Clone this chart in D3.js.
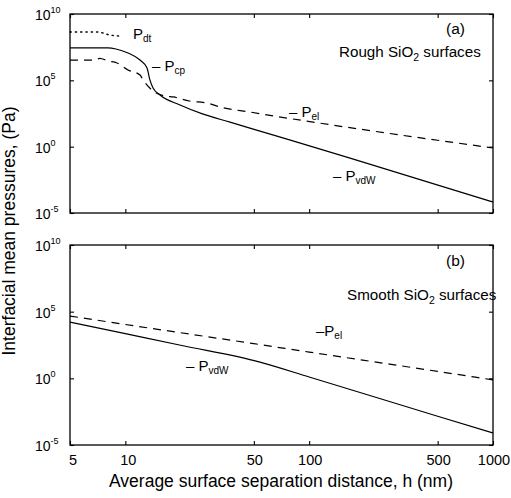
<!DOCTYPE html>
<html><head><meta charset="utf-8">
<script src="https://cdn.jsdelivr.net/npm/d3@7"></script>
<style>
html,body{margin:0;padding:0;background:#fff;}
svg{display:block;font-family:"Liberation Sans",Arial,Helvetica,sans-serif;}
</style></head>
<body><svg id="c" width="511" height="498"></svg>
<script>
// ---- data ----
const xTickValues = [5, 10, 50, 100, 500, 1000];
const xTickLabels = ["5", "10", "50", "100", "500", "1000"];
const yTickExps = [10, 5, 0, -5];

// Panel (a): rough SiO2 surfaces  (h in nm, pressures as log10(Pa))
const hTopVdw   = [5, 8.05, 8.89, 10.34, 12.02, 13.12, 13.6, 14.15, 15.44, 19.84, 26.5, 37.1, 47.6, 166.9, 1000];
const logTopVdw = [7.44, 7.44, 7.36, 7.06, 6.53, 5.93, 5.03, 4.42, 3.90, 3.14, 2.45, 1.85, 1.40, -0.86, -4.17];
const hTopEl    = [5, 6.84, 7.27, 8.05, 9.01, 10.34, 12.02, 12.49, 14.4, 16.4, 18.2, 22.3, 27.8, 32.7, 47.6, 1000];
const logTopEl  = [6.53, 6.53, 6.66, 6.46, 6.31, 5.78, 5.40, 5.03, 4.12, 3.82, 3.75, 3.44, 3.29, 2.99, 2.61, -0.10];
const hTopDt    = [5, 7.1, 8.2, 9.3];
const logTopDt  = [8.64, 8.64, 8.42, 8.34];

// Panel (b): smooth SiO2 surfaces
const hBotVdw   = [5, 10, 20, 54, 100, 500, 1000];
const logBotVdw = [4.22, 3.35, 2.48, 1.22, 0.10, -2.84, -4.10];
const hBotEl    = [5, 10, 50, 100, 500, 1000];
const logBotEl  = [4.67, 4.04, 2.60, 1.97, 0.52, -0.12];

// ---- layout ----
const svg = d3.select("#c");
const left = 70, right = 493;
const panels = [
  {top: 14, bottom: 213, tag: "(a)", title: "Rough SiO", tagY: 34, titleY: 57,
   series: [
     {h: hTopVdw, l: logTopVdw, dash: null},
     {h: hTopEl, l: logTopEl, dash: "8,6"},
     {h: hTopDt, l: logTopDt, dash: "1.3,4"}
   ],
   labels: [
     {x: 133, y: 39, main: "P", sub: "dt"},
     {x: 152, y: 71, main: "\u2013 P", sub: "cp"},
     {x: 289, y: 117, main: "\u2013 P", sub: "el"},
     {x: 333, y: 181, main: "\u2013 P", sub: "vdW"}
   ]},
  {top: 245, bottom: 445, tag: "(b)", title: "Smooth SiO", tagY: 266, titleY: 300,
   series: [
     {h: hBotVdw, l: logBotVdw, dash: null},
     {h: hBotEl, l: logBotEl, dash: "8,6"}
   ],
   labels: [
     {x: 316, y: 336, main: "\u2013P", sub: "el"},
     {x: 186, y: 371, main: "\u2013 P", sub: "vdW"}
   ]}
];

const x = d3.scaleLog().domain([5, 1000]).range([left, right]);

panels.forEach((p, i) => {
  const y = d3.scaleLog().domain([1e-5, 1e10]).range([p.bottom, p.top]);
  const g = svg.append("g");

  // frame
  g.append("rect").attr("x", left).attr("y", p.top)
    .attr("width", right - left).attr("height", p.bottom - p.top)
    .attr("fill", "none").attr("stroke", "#000").attr("stroke-width", 1.3);

  // axes with inward ticks
  const axB = d3.axisBottom(x).tickValues(xTickValues).tickSizeInner(-4).tickSizeOuter(0).tickFormat("");
  const axT = d3.axisTop(x).tickValues(xTickValues).tickSizeInner(-4).tickSizeOuter(0).tickFormat("");
  const yVals = yTickExps.map(e => Math.pow(10, e));
  const axL = d3.axisLeft(y).tickValues(yVals).tickSizeInner(-4).tickSizeOuter(0).tickFormat("");
  const axR = d3.axisRight(y).tickValues(yVals).tickSizeInner(-4).tickSizeOuter(0).tickFormat("");
  [[axB, `translate(0,${p.bottom})`], [axT, `translate(0,${p.top})`],
   [axL, `translate(${left},0)`], [axR, `translate(${right},0)`]].forEach(([a, t]) => {
    const ag = g.append("g").attr("transform", t).call(a);
    ag.select(".domain").remove();
    ag.selectAll("line").attr("stroke", "#000").attr("stroke-width", 1.1);
  });

  // y tick labels 10^n
  yTickExps.forEach(e => {
    const t = g.append("text").attr("x", 35).attr("y", y(Math.pow(10, e)) + 6)
      .attr("font-size", 14).attr("fill", "#000");
    t.append("tspan").text("10");
    t.append("tspan").attr("font-size", 9).attr("dy", -7).text(String(e));
  });

  // x tick labels only on the lower panel
  if (i === 1) {
    xTickValues.forEach((v, k) => {
      g.append("text").attr("x", x(v) + (k < 2 ? 3 : 1)).attr("y", p.bottom + 20)
        .attr("text-anchor", "middle").attr("font-size", 14.5).attr("fill", "#000")
        .text(xTickLabels[k]);
    });
  }

  // curves
  const line = d3.line().x(d => x(d[0])).y(d => y(Math.pow(10, d[1]))).curve(d3.curveMonotoneX);
  p.series.forEach(s => {
    const pts = s.h.map((h, k) => [h, s.l[k]]);
    const dotted = s.dash && s.dash.startsWith("1.3");
    g.append("path").attr("d", line(pts)).attr("fill", "none")
      .attr("stroke", "#000").attr("stroke-width", dotted ? 1.4 : 1.2)
      .attr("stroke-dasharray", s.dash)
      .attr("stroke-linecap", dotted ? "round" : "butt");
  });

  // curve labels
  p.labels.forEach(l => {
    const t = g.append("text").attr("x", l.x).attr("y", l.y).attr("font-size", 15).attr("fill", "#000");
    t.append("tspan").text(l.main);
    t.append("tspan").attr("font-size", 10).attr("dy", 3).text(l.sub);
  });

  // panel tag and title
  g.append("text").attr("x", 446).attr("y", p.tagY).attr("font-size", 15.5).attr("fill", "#000").text(p.tag);
  const tt = g.append("text").attr("x", i === 0 ? 339 : 347).attr("y", p.titleY)
    .attr("font-size", 15.2).attr("fill", "#000");
  tt.append("tspan").text(p.title);
  tt.append("tspan").attr("font-size", 10.5).attr("dy", 4).text("2");
  tt.append("tspan").attr("dy", -4).text(" surfaces");
});

// axis titles
svg.append("text").attr("x", 281).attr("y", 487).attr("text-anchor", "middle")
  .attr("font-size", 17.5).attr("fill", "#000")
  .text("Average surface separation distance, h (nm)");
svg.append("text").attr("transform", "translate(15,231) rotate(-90)")
  .attr("text-anchor", "middle").attr("font-size", 17.5).attr("fill", "#000")
  .text("Interfacial mean pressures, (Pa)");
</script></body></html>
